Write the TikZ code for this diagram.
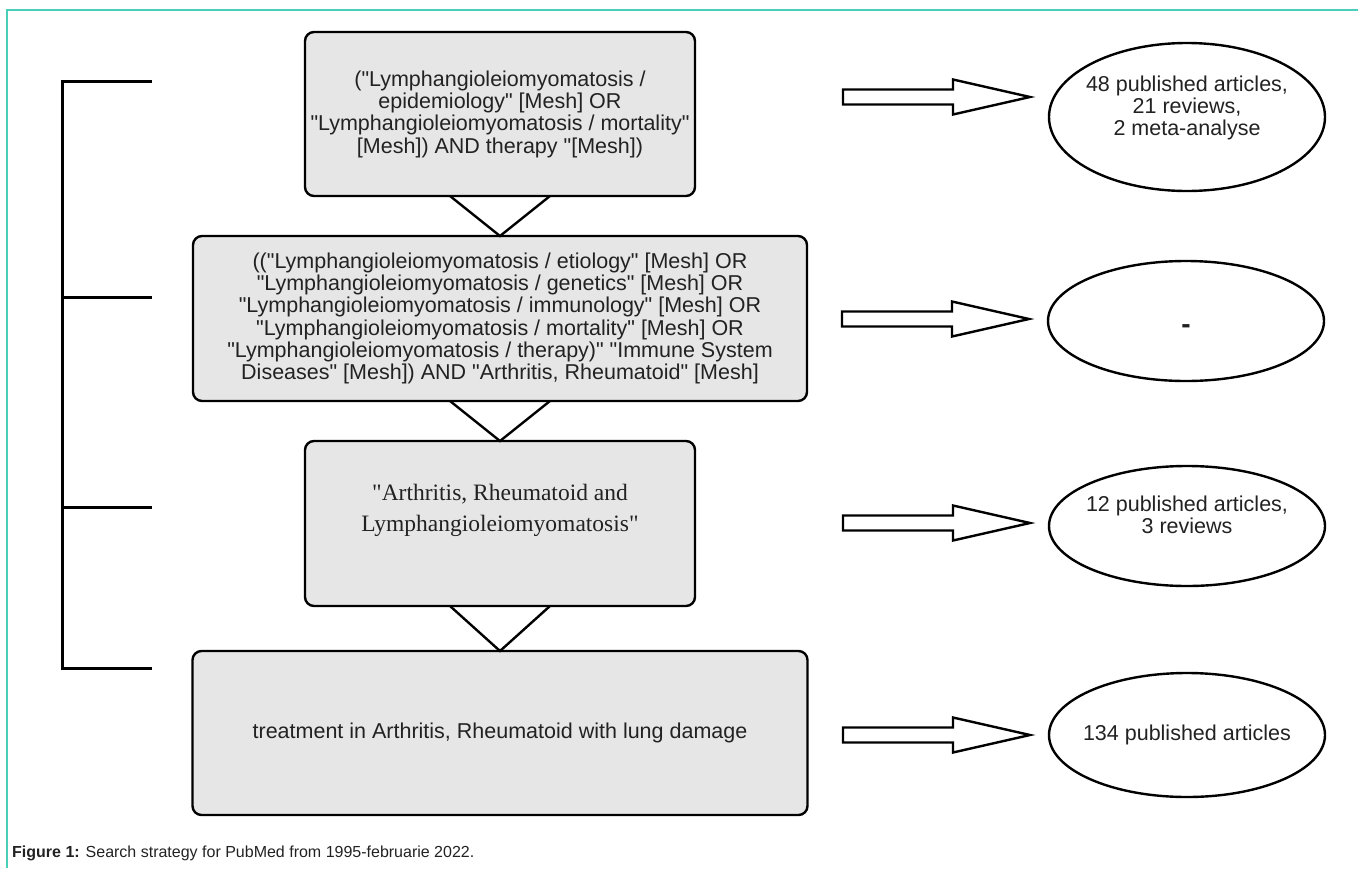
\documentclass[tikz,border=0pt]{standalone}
\usepackage{fontspec}
\setmainfont{Liberation Sans}[Ligatures=TeXOff]
\newfontfamily\serifbox{Liberation Serif}
\usetikzlibrary{positioning,calc,shapes.geometric}
\definecolor{BoxGray}{HTML}{E6E6E6}
\definecolor{TextDark}{HTML}{222222}
\definecolor{FrameTeal}{HTML}{48CFBA}

\begin{document}
\begin{tikzpicture}[
      x=1pt, y=-1pt,
      node distance = 40pt,
      box/.style = {rectangle, draw=black, line width=2.4pt, fill=BoxGray,
        rounded corners=9pt, align=center, inner sep=0pt, outer sep=0pt,
        text=TextDark, font=\fontsize{21.5}{22.3}\selectfont},
      result/.style = {ellipse, draw=black, line width=2.4pt, fill=white,
        inner xsep=-8pt, inner ysep=0pt, outer sep=0pt, align=center,
        text=TextDark, minimum width=276pt,
        font=\fontsize{21.5}{22.3}\selectfont},
      vee/.style = {line width=2.4pt, line join=miter},
      bigarrow/.style = {line width=2.4pt, fill=white, line join=miter},
      bracket/.style = {line width=3pt}
    ]
    \useasboundingbox (0,0) rectangle (1358,868);
    \draw [FrameTeal, line width=1.5pt] (7,868) -- (7,10) -- (1358,10);

    % search steps
    \node (B1) [box, minimum width=390pt, minimum height=164pt] at (500,114)
      {("Lymphangioleiomyomatosis /\\ epidemiology" [Mesh] OR\\
       "Lymphangioleiomyomatosis / mortality"\\{}[Mesh]) AND therapy "[Mesh])};
    \node (B2) [box, minimum width=614pt, minimum height=165pt, below=of B1]
      {(("Lymphangioleiomyomatosis / etiology" [Mesh] OR\\
       "Lymphangioleiomyomatosis / genetics" [Mesh] OR\\
       "Lymphangioleiomyomatosis / immunology" [Mesh] OR\\
       "Lymphangioleiomyomatosis / mortality" [Mesh] OR\\
       "Lymphangioleiomyomatosis / therapy)" "Immune System\\
       Diseases" [Mesh]) AND "Arthritis, Rheumatoid" [Mesh]};
    \node (B3) [box, minimum width=390pt, minimum height=165pt, below=of B2,
      font=\serifbox\fontsize{23.5}{31}\selectfont]
      {"Arthritis, Rheumatoid and\\ Lymphangioleiomyomatosis"\\ \mbox{}};
    \node (B4) [box, minimum width=615pt, minimum height=164pt, below=45pt of B3]
      {treatment in Arthritis, Rheumatoid with lung damage};

    % results
    \node (E1) [result, minimum height=148pt] at (1187,117)
      {48 published articles,\\ 21 reviews,\\ 2 meta-analyse\\ \mbox{}};
    \node (E2) [result, minimum height=120pt] at (1186,321)
      {\rule{0pt}{24pt}\textbf{\fontsize{28}{28}\selectfont -}};
    \node (E3) [result, minimum height=120pt] at (1187,526)
      {12 published articles,\\ 3 reviews\\ \mbox{}};
    \node (E4) [result, minimum height=124pt] at (1187,735)
      {134 published articles};

    % links
    \foreach \a/\b in {B1/B2,B2/B3,B3/B4}
      \draw [vee] ($(\a.south)+(-50,0)$) -- (\b.north) -- ($(\a.south)+(50,0)$);
    \foreach \e/\dy in {E1/-20,E2/-2,E3/-3,E4/0}
      \draw [bigarrow] ($(\e.west)+(-19,\dy)$) -- ++(-77,-17.5) -- ++(0,10)
        -- ++(-110,0) -- ++(0,15) -- ++(110,0) -- ++(0,10) -- cycle;
    \draw [bracket] (152,81) -| (62,668) -- (152,668);
    \foreach \ty in {297,507}
      \draw [bracket] (62,\ty) -- (152,\ty);

    \node (cap) [anchor=base west, inner sep=0pt, text=TextDark,
      font=\fontsize{16}{19}\selectfont] at (12,857)
      {\textbf{Figure 1:} Search strategy for PubMed from 1995-februarie 2022.};
  \end{tikzpicture}
\end{document}
